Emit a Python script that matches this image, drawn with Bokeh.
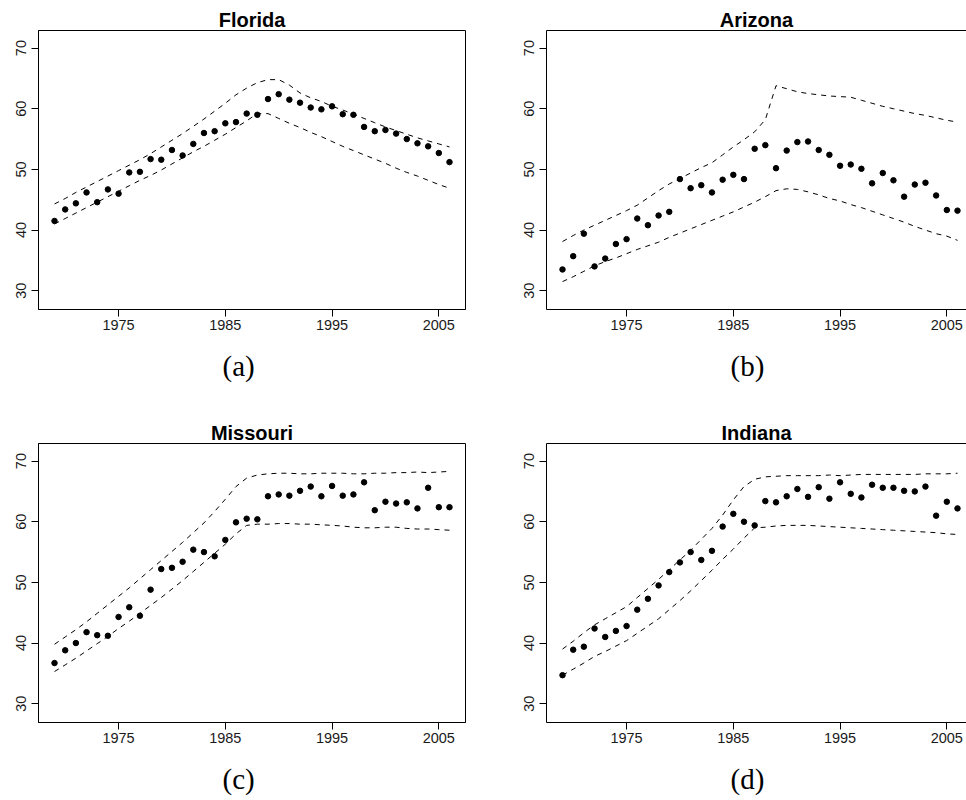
from bokeh.plotting import figure
from bokeh.models import LinearAxis, FixedTicker, Range1d, Title
from bokeh.layouts import gridplot
from bokeh.embed import file_html
from bokeh.resources import INLINE

years = list(range(1969, 2007))

florida_obs = [41.5, 43.4, 44.4, 46.2, 44.6, 46.7, 46.0, 49.5, 49.6, 51.7,
               51.6, 53.2, 52.3, 54.2, 56.0, 56.3, 57.6, 57.8, 59.2, 59.0,
               61.6, 62.4, 61.5, 61.0, 60.2, 59.9, 60.4, 59.1, 59.0, 57.0,
               56.3, 56.5, 55.9, 55.0, 54.3, 53.8, 52.7, 51.2]
florida_upper = [44.3, 45.2, 46.2, 47.1, 48.0, 48.9, 49.8, 50.7, 51.6, 52.6,
                 53.7, 54.8, 55.9, 57.1, 58.3, 59.6, 60.9, 62.3, 63.4, 64.3,
                 64.8, 64.8, 63.9, 62.6, 61.8, 61.2, 60.4, 59.8, 59.1, 58.4,
                 57.7, 57.0, 56.4, 55.8, 55.2, 54.7, 54.2, 53.7]
florida_lower = [41.0, 41.9, 42.8, 43.7, 44.6, 45.5, 46.4, 47.3, 48.2, 49.0,
                 49.9, 50.9, 51.9, 52.9, 53.8, 54.8, 55.8, 56.9, 58.0, 59.2,
                 59.2, 58.4, 57.6, 56.9, 56.1, 55.4, 54.6, 53.8, 53.1, 52.4,
                 51.7, 51.0, 50.2, 49.5, 48.9, 48.2, 47.5, 46.9]

arizona_obs = [33.5, 35.7, 39.4, 34.0, 35.3, 37.7, 38.5, 41.9, 40.8, 42.4,
               43.0, 48.4, 46.9, 47.4, 46.2, 48.3, 49.1, 48.4, 53.4, 54.0,
               50.2, 53.1, 54.5, 54.6, 53.2, 52.4, 50.6, 50.8, 50.1, 47.7,
               49.4, 48.2, 45.5, 47.5, 47.8, 45.7, 43.3, 43.2]
arizona_upper = [38.1, 39.1, 40.0, 40.8, 41.6, 42.4, 43.2, 44.1, 45.3, 46.5,
                 47.6, 48.5, 49.4, 50.3, 51.1, 52.4, 53.7, 54.9, 56.2, 58.2,
                 63.8, 63.3, 62.8, 62.5, 62.3, 62.1, 62.0, 61.9, 61.4, 60.9,
                 60.4, 60.0, 59.6, 59.2, 58.9, 58.5, 58.1, 57.8]
arizona_lower = [31.5, 32.3, 33.2, 34.1, 34.8, 35.4, 36.1, 36.8, 37.4, 38.0,
                 38.8, 39.5, 40.2, 40.9, 41.6, 42.3, 43.0, 43.8, 44.6, 45.5,
                 46.5, 46.8, 46.7, 46.3, 45.8, 45.2, 44.8, 44.2, 43.7, 43.1,
                 42.5, 41.9, 41.3, 40.6, 40.0, 39.4, 39.0, 38.3]

missouri_obs = [36.7, 38.8, 40.0, 41.8, 41.3, 41.2, 44.3, 45.9, 44.5, 48.8,
                52.2, 52.4, 53.4, 55.4, 55.0, 54.3, 57.0, 59.9, 60.5, 60.4,
                64.2, 64.5, 64.3, 65.1, 65.8, 64.2, 65.9, 64.3, 64.5, 66.5,
                61.9, 63.3, 63.0, 63.2, 62.2, 65.6, 62.4, 62.4]
missouri_upper = [39.8, 41.0, 42.2, 43.5, 44.9, 46.3, 47.7, 49.1, 50.6, 52.1,
                  53.6, 55.1, 56.6, 58.2, 59.8, 61.7, 63.7, 65.8, 67.2, 67.7,
                  67.9, 68.0, 68.0, 67.9, 67.9, 68.0, 68.0, 68.0, 67.9, 67.9,
                  68.0, 68.0, 68.1, 68.1, 68.2, 68.1, 68.2, 68.3]
missouri_lower = [35.3, 36.4, 37.5, 38.7, 39.9, 41.1, 42.4, 43.6, 44.9, 46.2,
                  47.5, 48.9, 50.3, 51.8, 53.3, 54.8, 56.3, 58.0, 59.4, 59.6,
                  59.6, 59.7, 59.7, 59.6, 59.6, 59.5, 59.4, 59.3, 59.1, 59.0,
                  59.0, 59.1, 59.1, 58.9, 58.8, 58.8, 58.7, 58.6]

indiana_obs = [34.7, 38.9, 39.4, 42.4, 41.0, 42.0, 42.8, 45.5, 47.3, 49.5,
               51.7, 53.3, 55.0, 53.7, 55.2, 59.2, 61.3, 60.0, 59.4, 63.4,
               63.2, 64.2, 65.4, 64.1, 65.7, 63.8, 66.5, 64.6, 64.0, 66.1,
               65.6, 65.6, 65.1, 65.0, 65.8, 61.0, 63.3, 62.2]
indiana_upper = [39.0, 40.3, 41.7, 43.0, 44.0, 45.0, 46.0, 47.5, 49.0, 50.5,
                 52.1, 53.7, 55.3, 57.1, 58.9, 61.1, 63.6, 65.8, 67.0, 67.4,
                 67.5, 67.6, 67.6, 67.6, 67.6, 67.7, 67.6, 67.7, 67.8, 67.8,
                 67.8, 67.8, 67.8, 67.8, 67.9, 67.9, 67.9, 68.0]
indiana_lower = [34.7, 35.7, 36.7, 37.8, 38.6, 39.5, 40.4, 41.6, 42.8, 44.0,
                 45.5, 47.0, 48.6, 50.3, 52.0, 53.8, 55.5, 57.3, 59.0, 59.1,
                 59.3, 59.4, 59.4, 59.4, 59.3, 59.2, 59.1, 59.0, 58.9, 58.8,
                 58.7, 58.6, 58.5, 58.4, 58.3, 58.2, 58.0, 57.9]

x_ticks = [1975, 1985, 1995, 2005]
y_ticks = [30, 40, 50, 60, 70]

XMIN, XMAX = 1967.5, 2007.5
YMIN, YMAX = 26.9, 72.9
FULL_W = 427
FRAME_H = 279
SANS = "Liberation Sans"
SERIF = "Liberation Serif"


def style_axis(ax, ticks):
    ax.ticker = FixedTicker(ticks=ticks)
    ax.major_tick_out = 7
    ax.major_tick_in = 0
    ax.minor_tick_out = 0
    ax.minor_tick_in = 0
    ax.axis_line_color = "black"
    ax.axis_line_width = 1
    ax.major_tick_line_color = "black"
    ax.major_label_text_font = SANS
    ax.major_label_text_font_size = "14.5px"
    ax.major_label_text_color = "#1a1a1a"


def make_panel(title, caption, obs, upper, lower, is_right, is_top):
    fw = 420 if is_right else FULL_W
    x_end = XMIN + (XMAX - XMIN) * fw / FULL_W
    p = figure(frame_width=fw, frame_height=FRAME_H,
               x_range=Range1d(XMIN, x_end), y_range=Range1d(YMIN, YMAX),
               output_backend="svg", toolbar_location=None,
               min_border_left=38, min_border_right=0 if is_right else 43,
               min_border_top=30, min_border_bottom=104 if is_top else 78,
               background_fill_color="white", border_fill_color="white")
    p.xgrid.visible = False
    p.ygrid.visible = False
    style_axis(p.xaxis[0], x_ticks)
    style_axis(p.yaxis[0], y_ticks)
    p.xaxis.major_label_standoff = 3
    p.yaxis.major_label_standoff = 5
    p.yaxis.major_label_orientation = "vertical"
    if is_right:
        p.outline_line_color = None
        top = LinearAxis(ticker=FixedTicker(ticks=[]), major_tick_out=0,
                         major_tick_in=0, minor_tick_out=0, minor_tick_in=0,
                         axis_line_color="black")
        p.add_layout(top, "above")
    else:
        p.outline_line_color = "black"
        p.outline_line_width = 1
        p.outline_line_alpha = 1

    p.title.text = title
    p.title.align = "center"
    p.title.text_font = SANS
    p.title.text_font_style = "bold"
    p.title.text_font_size = "20px"
    p.title.text_color = "black"
    p.title.standoff = 0

    p.add_layout(Title(text=caption, align="left", offset=184,
                       vertical_align="top", standoff=34,
                       text_font=SERIF, text_font_style="normal",
                       text_font_size="29px", text_color="black"), "below")

    p.line(years, upper, line_color="black", line_width=1, line_dash="5 5")
    p.line(years, lower, line_color="black", line_width=1, line_dash="5 5")
    p.scatter(years, obs, marker="circle", size=5.5, fill_color="black",
              line_color="black")
    return p


pa = make_panel("Florida", "(a)", florida_obs, florida_upper, florida_lower, False, True)
pb = make_panel("Arizona", "(b)", arizona_obs, arizona_upper, arizona_lower, True, True)
pc = make_panel("Missouri", "(c)", missouri_obs, missouri_upper, missouri_lower, False, False)
pd = make_panel("Indiana", "(d)", indiana_obs, indiana_upper, indiana_lower, True, False)

grid = gridplot([[pa, pb], [pc, pd]], toolbar_location=None)

open("out.html", "w").write(file_html(grid, INLINE))
